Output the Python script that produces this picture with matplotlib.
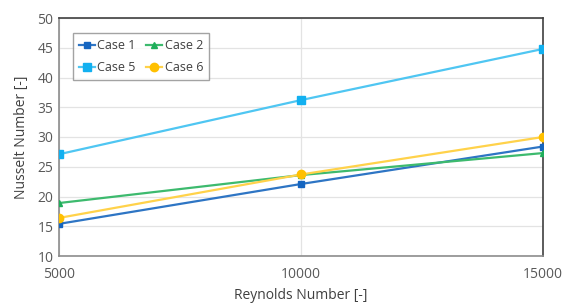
import matplotlib
matplotlib.use("Agg")
import matplotlib.pyplot as plt

reynolds = [5000, 10000, 15000]
case1 = [15.4, 22.1, 28.4]
case2 = [18.9, 23.6, 27.3]
case5 = [27.1, 36.2, 44.8]
case6 = [16.4, 23.7, 30.0]

x_ticks = [5000, 10000, 15000]
y_ticks = [10, 15, 20, 25, 30, 35, 40, 45, 50]

plt.rcParams['font.family'] = ['Open Sans', 'DejaVu Sans']

fig = plt.figure(figsize=(5.63, 3.06), dpi=100)
ax = fig.add_axes([59/563, 1-256/306, (543-59)/563, (256-18)/306])

series = [
    ("Case 1", case1, "#2E75C4", "#1565C0", "s", 5),
    ("Case 2", case2, "#3DBA6E", "#1FAE5A", "^", 5),
    ("Case 5", case5, "#4FC6F2", "#12B0F0", "s", 6),
    ("Case 6", case6, "#FFD24A", "#FFC000", "o", 6),
]
handles = {}
for name, vals, lc, mc, mk, ms in series:
    h, = ax.plot(reynolds, vals, color=lc, lw=1.6, marker=mk, ms=ms,
                 markerfacecolor=mc, markeredgecolor=mc, label=name, zorder=3)
    handles[name] = h

ax.set_xlim(5000, 15000)
ax.set_ylim(10, 50)
ax.set_xticks(x_ticks)
ax.set_yticks(y_ticks)
ax.grid(True, color="#E3E3E3", lw=0.9, zorder=0)
ax.tick_params(length=0, labelsize=10, colors="#595959", pad=8)
ax.tick_params(axis='y', pad=4)
for s in ["top", "right"]:
    ax.spines[s].set_color("#404040")
    ax.spines[s].set_linewidth(1.2)
for s in ["left", "bottom"]:
    ax.spines[s].set_color("#8C8C8C")
    ax.spines[s].set_linewidth(1.2)

ax.set_xlabel("Reynolds Number [-]", fontsize=10, color="#404040", labelpad=4)
ax.set_ylabel("Nusselt Number [-]", fontsize=10, color="#404040", labelpad=6)

order = ["Case 1", "Case 5", "Case 2", "Case 6"]
leg = ax.legend([handles[n] for n in order], order, ncol=2, loc="upper left",
                bbox_to_anchor=(0.029, 0.935), borderaxespad=0,
                fontsize=9, frameon=True, fancybox=False, edgecolor="#8C8C8C",
                handlelength=1.3, handletextpad=0.2, columnspacing=0.8,
                labelcolor="#404040", borderpad=0.45, labelspacing=0.75)
leg.get_frame().set_linewidth(1.0)

fig.savefig("out.png", dpi=100)
